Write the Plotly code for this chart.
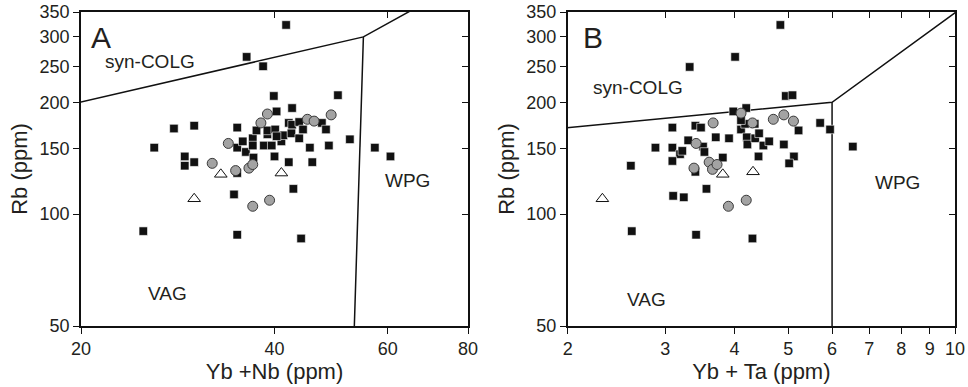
import numpy as np
import plotly.graph_objects as go

# ---------------- data ----------------
# Panel A: Rb vs Yb+Nb
a_sq_x = [41.7, 36.2, 38.4, 39.9, 50.2, 40.3, 42.6, 27.9, 30.0, 35.0, 26.0, 29.0, 29.0, 30.0, 35.0, 35.7,
          36.1, 37.0, 37.0, 37.5, 38.5, 39.6, 39.0, 39.0, 40.1, 40.0, 41.0, 41.3, 42.1, 42.6, 42.5, 43.7,
          43.7, 44.3, 45.4, 45.8, 47.4, 48.1, 48.6, 52.4, 57.3, 60.6, 42.1, 37.1, 42.8, 34.6, 35.0, 25.0,
          35.0, 44.0, 40.3]
a_sq_y = [323, 265, 250, 208, 209, 189, 193, 170, 173, 171, 151, 143, 135, 138, 151, 157,
          147, 160, 153, 168, 153, 153, 164, 168, 169, 143, 157, 163, 176, 174, 165, 177,
          160, 169, 151, 138, 176, 169, 153, 159, 151, 143, 138, 142, 117, 113, 129, 90,
          88, 86, 162]
a_ci_x = [33.9, 32.0, 34.8, 36.5, 37.0, 38.1, 39.0, 45.0, 46.1, 49.0, 39.3, 37.0]
a_ci_y = [155, 137, 131, 133, 136, 176, 186, 180, 178, 185, 109, 105]
a_tr_x = [33.0, 41.0, 30.0]
a_tr_y = [128, 129, 110]

# Panel B: Rb vs Yb+Ta
b_sq_x = [4.84, 4.01, 3.32, 4.95, 5.09, 3.98, 4.20, 3.09, 3.40, 3.48, 2.88, 3.09, 3.19, 3.22, 3.30, 3.51,
          3.53, 3.70, 3.91, 4.11, 4.18, 4.11, 4.21, 4.22, 4.35, 4.36, 4.43, 4.51, 4.62, 4.42, 4.91, 5.12,
          5.02, 5.22, 5.71, 5.95, 6.54, 2.60, 3.09, 3.81, 3.40, 3.56, 3.10, 3.24, 2.61, 3.41, 4.31]
b_sq_y = [323, 265, 249, 208, 209, 189, 193, 171, 173, 171, 151, 151, 145, 148, 158, 152,
          147, 161, 160, 169, 175, 179, 161, 154, 175, 160, 165, 153, 157, 143, 154, 143,
          137, 168, 176, 169, 152, 135, 139, 142, 130, 117, 112, 111, 90, 88, 86]
b_ci_x = [3.66, 3.41, 4.11, 4.31, 4.70, 4.91, 5.11, 3.38, 3.60, 3.65, 3.72, 3.90, 4.20]
b_ci_y = [176, 155, 187, 176, 180, 185, 178, 133, 138, 132, 136, 105, 109]
b_tr_x = [3.81, 4.32, 2.31]
b_tr_y = [128, 130, 110]

# Discrimination boundaries (Pearce et al., 1984)
a_b1_x = [2, 55, 400]
a_b1_y = [80, 300, 2000]
a_b2_x = [55, 51.5]
a_b2_y = [300, 8]
b_b1_x = [0.5, 6, 50]
b_b1_y = [140, 200, 2000]
b_b2_x = [6, 6]
b_b2_y = [200, 8]

y_ticks = [50, 100, 150, 200, 250, 300, 350]
y_inner_ticks = [100, 150, 200, 250, 300]
a_x_ticks = [20, 40, 60, 80]
a_x_inner = [40, 60]
b_x_ticks = [2, 3, 4, 5, 6, 7, 8, 9, 10]
b_x_inner = [3, 4, 5, 6, 7, 8, 9]

# field labels: (text, x, y)
a_labels = [("syn-COLG", 25.6, 257), ("WPG", 64.3, 123), ("VAG", 27.3, 61)]
b_labels = [("syn-COLG", 2.68, 219), ("WPG", 7.89, 122), ("VAG", 2.77, 59)]
a_letter = ("A", 21.5, 299)
b_letter = ("B", 2.22, 299)

# ---------------- figure ----------------
FONT = "Liberation Sans, Arial, sans-serif"
TXT = "#231f20"
W, H = 968, 387

fig = go.Figure()

sq_style = dict(symbol="square", size=8.5, color="#111111", line=dict(color="white", width=0.6))
ci_style = dict(symbol="circle", size=10, color="#a3a3a3", line=dict(color="#3a3a3a", width=1))
tr_style = dict(symbol="triangle-up", size=11, color="white", line=dict(color="#111111", width=1))
line_style = dict(color="#111111", width=1.5)

for xa, ya, sx, sy, cx, cy, tx, ty, l1x, l1y, l2x, l2y in [
    ("x", "y", a_sq_x, a_sq_y, a_ci_x, a_ci_y, a_tr_x, a_tr_y, a_b1_x, a_b1_y, a_b2_x, a_b2_y),
    ("x2", "y2", b_sq_x, b_sq_y, b_ci_x, b_ci_y, b_tr_x, b_tr_y, b_b1_x, b_b1_y, b_b2_x, b_b2_y),
]:
    fig.add_trace(go.Scatter(x=l1x, y=l1y, mode="lines", line=line_style, xaxis=xa, yaxis=ya,
                             showlegend=False, hoverinfo="skip"))
    fig.add_trace(go.Scatter(x=l2x, y=l2y, mode="lines", line=line_style, xaxis=xa, yaxis=ya,
                             showlegend=False, hoverinfo="skip"))
    fig.add_trace(go.Scatter(x=sx, y=sy, mode="markers", marker=sq_style, xaxis=xa, yaxis=ya,
                             showlegend=False, cliponaxis=False))
    fig.add_trace(go.Scatter(x=cx, y=cy, mode="markers", marker=ci_style, xaxis=xa, yaxis=ya,
                             showlegend=False, cliponaxis=False))
    fig.add_trace(go.Scatter(x=tx, y=ty, mode="markers", marker=tr_style, xaxis=xa, yaxis=ya,
                             showlegend=False, cliponaxis=False))

# invisible traces so the overlay (inner tick) axes get drawn
for xa, ya in [("x3", "y"), ("x", "y3"), ("x4", "y2"), ("x2", "y4")]:
    fig.add_trace(go.Scatter(x=[None], y=[None], xaxis=xa, yaxis=ya, showlegend=False,
                             hoverinfo="skip", mode="markers"))

yr = [np.log10(50), np.log10(350)]
ydom = [1 - 326 / H, 1 - 12 / H]
a_dom = [81 / W, 468 / W]
b_dom = [567.7 / W, 955 / W]
a_xr = [np.log10(20), np.log10(80)]
b_xr = [np.log10(2), np.log10(10)]

tickfont = dict(family=FONT, size=18, color=TXT)
titlefont = dict(family=FONT, size=22, color=TXT)

def xaxis_main(dom, rng, ticks, title, anchor):
    return dict(type="log", domain=dom, range=rng, tickvals=ticks, ticktext=[str(t) for t in ticks],
                ticks="outside", ticklen=6, tickwidth=1.2, tickcolor="#111111",
                showline=True, linecolor="#111111", linewidth=1.5, mirror=True,
                showgrid=False, zeroline=False, tickfont=tickfont,
                title=dict(text=title, font=titlefont, standoff=4), anchor=anchor, automargin=False)

def yaxis_main(anchor):
    return dict(type="log", domain=ydom, range=yr, tickvals=y_ticks, ticktext=[str(t) for t in y_ticks],
                ticks="outside", ticklen=6, tickwidth=1.2, tickcolor="#111111",
                showline=True, linecolor="#111111", linewidth=1.5, mirror=True,
                showgrid=False, zeroline=False, tickfont=tickfont, anchor=anchor,
                title=dict(text="Rb (ppm)", font=titlefont, standoff=6), automargin=False)

def inner_x(rng, ticks, ov, anc):
    return dict(type="log", range=rng, overlaying=ov, anchor=anc, side="top",
                tickvals=ticks, ticks="inside", ticklen=6, tickwidth=1.2,
                tickcolor="#111111", showticklabels=False, showline=False,
                showgrid=False, zeroline=False, automargin=False)

def inner_y(ov, anc):
    return dict(type="log", range=yr, overlaying=ov, anchor=anc, side="right",
                tickvals=y_inner_ticks, ticks="inside", ticklen=6, tickwidth=1.2,
                tickcolor="#111111", showticklabels=False, showline=False,
                showgrid=False, zeroline=False, automargin=False)

annotations = []
for (txt, x, y), xr_, yr_ in [(l, "x", "y") for l in a_labels] + [(l, "x2", "y2") for l in b_labels]:
    annotations.append(dict(text=txt, x=np.log10(x), y=np.log10(y), xref=xr_, yref=yr_,
                            showarrow=False, font=dict(family=FONT, size=19, color=TXT)))
for (txt, x, y), xr_, yr_ in [(a_letter, "x", "y"), (b_letter, "x2", "y2")]:
    annotations.append(dict(text=txt, x=np.log10(x), y=np.log10(y), xref=xr_, yref=yr_,
                            showarrow=False, font=dict(family=FONT, size=30, color=TXT)))

fig.update_layout(
    template="none",
    width=W, height=H,
    margin=dict(l=0, r=0, t=0, b=0),
    paper_bgcolor="white", plot_bgcolor="white",
    showlegend=False,
    xaxis=xaxis_main(a_dom, a_xr, a_x_ticks, "Yb +Nb (ppm)", "y"),
    xaxis2=xaxis_main(b_dom, b_xr, b_x_ticks, "Yb + Ta (ppm)", "y2"),
    yaxis=yaxis_main("x"), yaxis2=yaxis_main("x2"),
    xaxis3=inner_x(a_xr, a_x_inner, "x", "y"),
    xaxis4=inner_x(b_xr, b_x_inner, "x2", "y2"),
    yaxis3=inner_y("y", "x"),
    yaxis4=inner_y("y2", "x2"),
    annotations=annotations,
    font=dict(family=FONT, color=TXT),
)

fig.write_html("out.html")
